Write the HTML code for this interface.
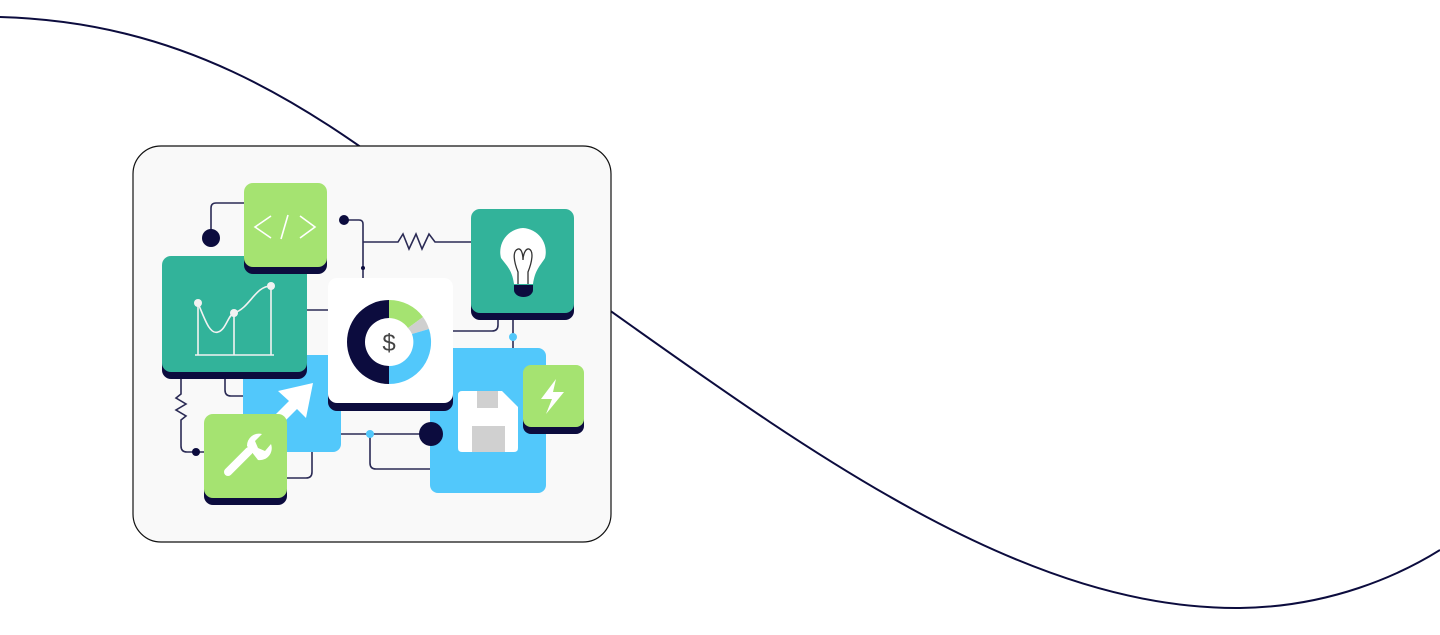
<!DOCTYPE html>
<html><head><style>
html,body{margin:0;padding:0;background:#fff;width:1440px;height:635px;overflow:hidden}
</style></head><body>
<svg width="1440" height="635" viewBox="0 0 1440 635" xmlns="http://www.w3.org/2000/svg">
<path d="M0,17 C180,22 300,100 420,190 C480,235 540,260 612,312 C820,460 1030,610 1240,608 C1330,607 1400,575 1440,550" fill="none" stroke="#0c0c3e" stroke-width="2"/>
<rect x="133" y="146" width="478" height="396" rx="28" fill="#f9f9f9" stroke="#111" stroke-width="1.2"/>
<g fill="none" stroke="#2b2b55" stroke-width="1.6">
<path d="M211,238 V208 Q211,203 216,203 H245"/>
<path d="M344,220 H359 Q363,220 363,224 V280"/>
<path d="M363,242 H398 L403,234 L409,249 L416,234 L422,249 L429,234 L435,242 H472"/>
<path d="M453,331 H492 Q498,331 498,325 V318"/>
<path d="M513,318 V350"/>
<path d="M181,379 V394 L176,398 L186,404 L176,410 L186,416 L181,420 V446 Q181,452 187,452 H205"/>
<path d="M225,378 V390 Q225,396 231,396 H245"/>
<path d="M307,310 H330"/>
<path d="M312,452 V472 Q312,478 306,478 H286"/>
<path d="M340,434 H431"/>
<path d="M370,434 V463 Q370,469 376,469 H431"/>
</g>
<circle cx="211" cy="238" r="9" fill="#0c0c3e"/>
<circle cx="344" cy="220" r="5" fill="#0c0c3e"/>
<circle cx="363" cy="268" r="2" fill="#0c0c3e"/>
<circle cx="196" cy="452" r="4" fill="#0c0c3e"/>
<rect x="243" y="355" width="98" height="97" rx="8" fill="#52c8fb"/>
<rect x="430" y="348" width="116" height="145" rx="8" fill="#52c8fb"/>
<circle cx="370" cy="434" r="4" fill="#52c8fb"/>
<circle cx="513" cy="337" r="4" fill="#52c8fb"/>
<circle cx="431" cy="434" r="12" fill="#0c0c3e"/>
<!-- arrow -->
<path d="M313,383 L306,418 L297,409 L262,444 L254,436 L289,401 L278,391 Z" fill="#fff"/>
<path d="M462,391 H502 L518,407 V448 Q518,452 514,452 H462 Q458,452 458,448 V395 Q458,391 462,391 Z" fill="#fff"/>
<rect x="477" y="391" width="21" height="17" fill="#d0d0d0"/>
<rect x="472" y="426" width="33" height="26" fill="#d0d0d0"/>
<rect x="162" y="264" width="145" height="115" rx="9" fill="#0c0c3e"/>
<rect x="162" y="256" width="145" height="116" rx="9" fill="#32b39a"/>
<g stroke="#f2f2f2" stroke-width="1.6" fill="none">
<path d="M195,355 H274"/>
<path d="M198,303 V355 M234,313 V355 M271,286 V355"/>
<path d="M198,303 C205,320 210,335 218,332 C226,330 228,315 234,313 C250,308 255,286 271,286"/>
</g>
<g fill="#f2f2f2"><circle cx="198" cy="303" r="4"/><circle cx="234" cy="313" r="4"/><circle cx="271" cy="286" r="4"/></g>
<rect x="244" y="190" width="83" height="84" rx="9" fill="#0c0c3e"/>
<rect x="244" y="183" width="83" height="84" rx="9" fill="#a5e371"/>
<g stroke="#fff" stroke-width="1.6" fill="none"><path d="M271,216 L255,227 L271,238 M300,216 L315,227 L300,238 M288,215 L281,239"/></g>
<rect x="204" y="421" width="83" height="84" rx="9" fill="#0c0c3e"/>
<rect x="204" y="414" width="83" height="84" rx="9" fill="#a5e371"/>
<path d="M228,472 L249,451" stroke="#fff" stroke-width="8" stroke-linecap="round"/>
<path d="M247,446 A12,12 0 0 1 262,434 L255,441 L258,448 L265,451 L271,444 A12,12 0 0 1 258,460 Z" fill="#fff"/>
<rect x="471" y="216" width="103" height="104" rx="9" fill="#0c0c3e"/>
<rect x="471" y="209" width="103" height="104" rx="9" fill="#32b39a"/>
<path d="M523,228 A24,24 0 0 1 545,258 C540,266 535,270 533,284 H514 C512,270 507,266 501,258 A24,24 0 0 1 523,228 Z" fill="#fff"/>
<path d="M514,285 H533 V290 A9.5,7 0 0 1 514,290 Z" fill="#0c0c3e"/>
<path d="M518,284 V272 C514,262 512,251 518,249 C522,248 523,256 523,260 C523,256 525,248 529,249 C534,251 532,262 528,272 V284" fill="none" stroke="#333" stroke-width="1.3"/>
<rect x="523" y="372" width="61" height="62" rx="8" fill="#0c0c3e"/>
<rect x="523" y="365" width="61" height="62" rx="8" fill="#a5e371"/>
<path d="M556,379 L541,399 H552 L546,414 L564,392 H553 Z" fill="#fff"/>
<rect x="328" y="286" width="125" height="125" rx="9" fill="#0c0c3e"/>
<rect x="328" y="278" width="125" height="125" rx="9" fill="#fff"/>
<g transform="translate(389,342)">
<path d="M0,-42 A42,42 0 0 0 0,42 L0,24 A24,24 0 0 1 0,-24 Z" fill="#0c0c3e"/>
<path d="M0,-42 A42,42 0 0 1 34,-25 L19,-14 A24,24 0 0 0 0,-24 Z" fill="#a5e371"/>
<path d="M34,-25 A42,42 0 0 1 40,-13 L23,-8 A24,24 0 0 0 19,-14 Z" fill="#cfcfcf"/>
<path d="M40,-13 A42,42 0 0 1 0,42 L0,24 A24,24 0 0 0 23,-8 Z" fill="#52c8fb"/>
<text x="0" y="9" text-anchor="middle" font-family="Liberation Sans, sans-serif" font-size="24" fill="#444">$</text>
</g>
</svg>
</body></html>
